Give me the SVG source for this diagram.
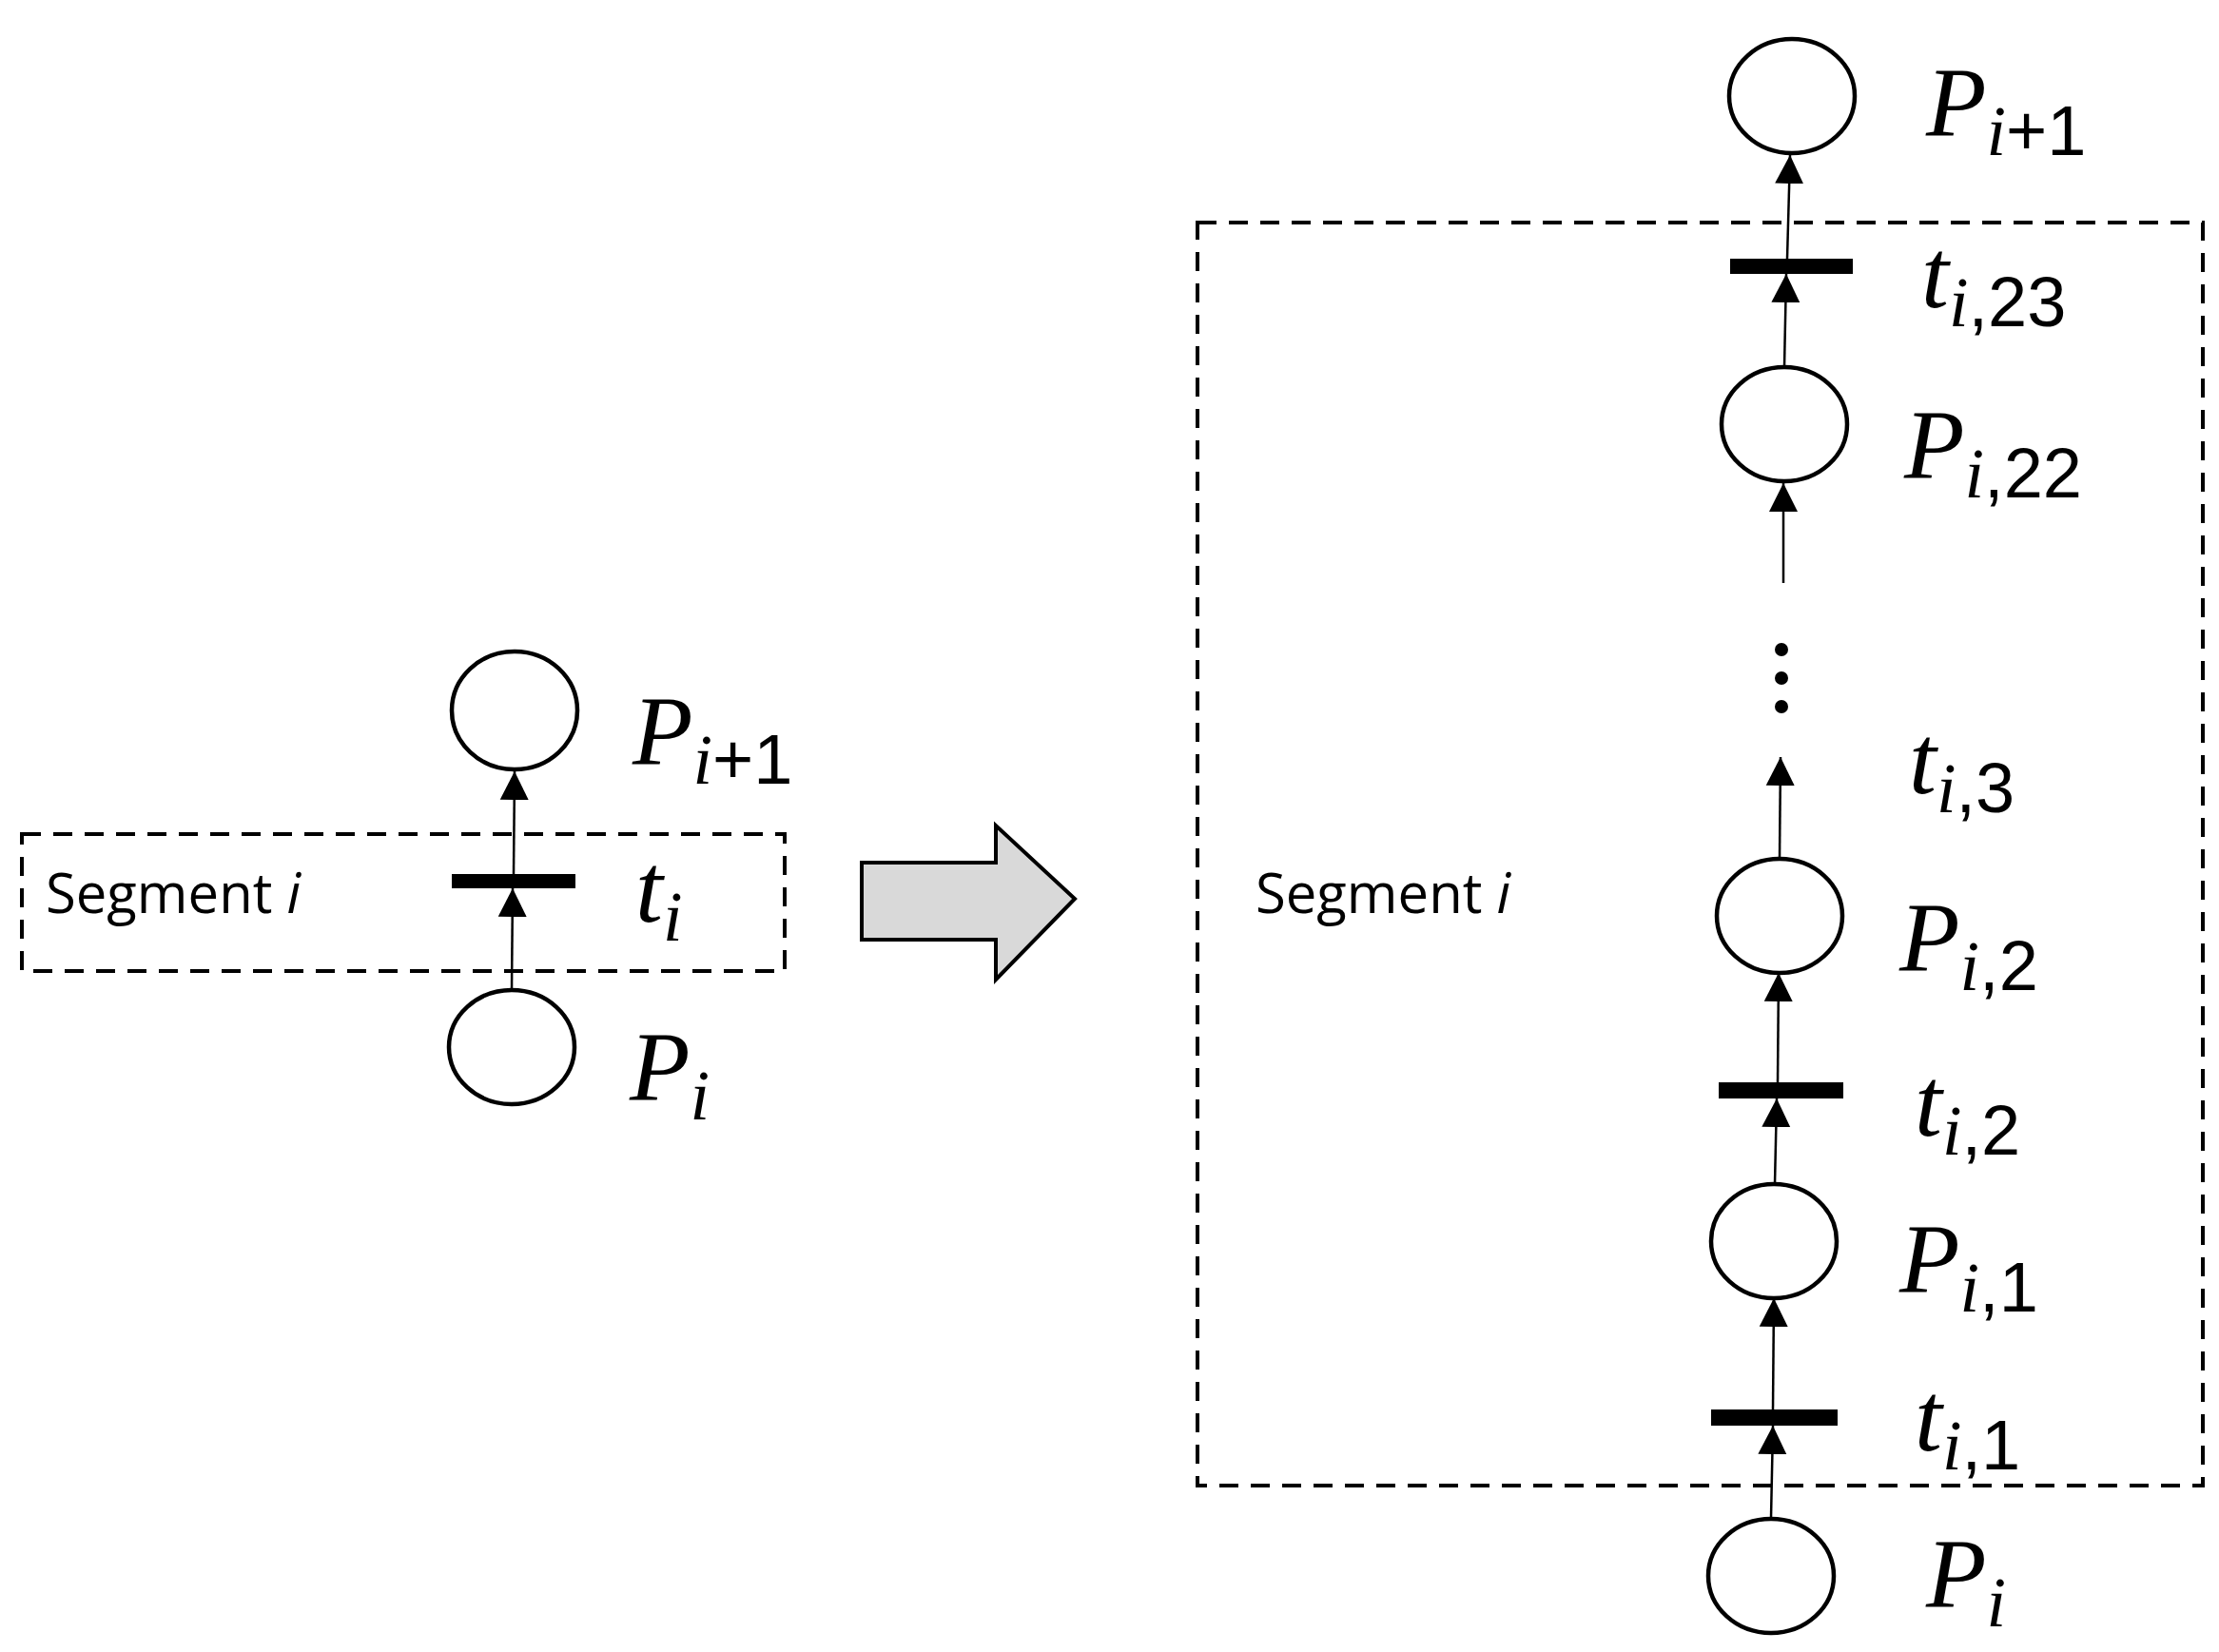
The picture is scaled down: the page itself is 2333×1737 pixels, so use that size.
<svg xmlns="http://www.w3.org/2000/svg" width="2333" height="1737" viewBox="0 0 2333 1737">
<style>
.pl{fill:#fff;stroke:#000;stroke-width:4.5}
.tr{fill:#000}
.dash{fill:none;stroke:#000;stroke-width:4;stroke-dasharray:20 13}
.arc{stroke:#000;stroke-width:2.5;fill:none;marker-end:url(#ah)}
.m{font-family:"Liberation Serif","DejaVu Serif",serif;font-style:italic;font-size:104px}
.s{font-size:74px}
.n{font-style:normal;font-family:"Liberation Sans",sans-serif}
.seg{font-family:"Open Sans","Liberation Sans",sans-serif;font-size:58px}
</style>
<defs>
<marker id="ah" markerUnits="userSpaceOnUse" markerWidth="30" markerHeight="40" refX="30" refY="15" orient="auto" viewBox="0 0 30 30"><path d="M0,0 L30,15 L0,30 Z"/></marker>
</defs>
<g id="connectors">
<line class="arc" x1="538" y1="1041" x2="539" y2="934"/>
<line class="arc" x1="540" y1="919" x2="541" y2="811"/>
<line class="arc" x1="1862" y1="1597" x2="1864" y2="1499"/>
<line class="arc" x1="1864" y1="1482" x2="1865" y2="1365"/>
<line class="arc" x1="1866" y1="1245" x2="1868" y2="1155"/>
<line class="arc" x1="1869" y1="1138" x2="1870" y2="1023"/>
<line class="arc" x1="1871" y1="903" x2="1872" y2="796"/>
<line class="arc" x1="1875" y1="613" x2="1875" y2="508"/>
<line class="arc" x1="1876" y1="386" x2="1878" y2="288"/>
<line class="arc" x1="1879" y1="272" x2="1882" y2="163"/>
</g>
<g id="segment-left"><rect class="dash" x="23" y="877" width="802" height="144"/><text class="seg" x="48" y="960">Segment <tspan font-style="italic">i</tspan></text></g>
<g id="segment-right"><rect class="dash" x="1259" y="234" width="1057" height="1328"/><text class="seg" x="1320" y="960">Segment <tspan font-style="italic">i</tspan></text></g>
<g id="L-Pi1"><ellipse class="pl" cx="541" cy="747" rx="66" ry="62"/><text class="m" x="665" y="804">P<tspan class="s" dy="20">i</tspan><tspan class="s n">+1</tspan></text></g>
<g id="L-ti"><rect class="tr" x="475" y="919" width="130" height="15"/><text class="m" x="668" y="969">t<tspan class="s" dy="20">i</tspan></text></g>
<g id="L-Pi"><ellipse class="pl" cx="538" cy="1101" rx="66" ry="60"/><text class="m" x="662" y="1157">P<tspan class="s" dy="20">i</tspan></text></g>
<g id="block-arrow"><path d="M906,907 H1047 V868 L1130,945 L1047,1030 V988 H906 Z" fill="#d9d9d9" stroke="#000" stroke-width="4"/></g>
<g id="R-Pi1"><ellipse class="pl" cx="1884" cy="101" rx="66" ry="60"/><text class="m" x="2025" y="143">P<tspan class="s" dy="20">i</tspan><tspan class="s n">+1</tspan></text></g>
<g id="R-ti23"><rect class="tr" x="1819" y="272" width="129" height="16"/><text class="m" x="2020" y="323">t<tspan class="s" dy="20">i</tspan><tspan class="s n">,23</tspan></text></g>
<g id="R-Pi22"><ellipse class="pl" cx="1876" cy="446" rx="66" ry="60"/><text class="m" x="2002" y="503">P<tspan class="s" dy="20">i</tspan><tspan class="s n">,22</tspan></text></g>
<g id="dots"><circle cx="1873" cy="683" r="7"/><circle cx="1873" cy="713" r="7"/><circle cx="1873" cy="743" r="7"/></g>
<g id="R-ti3"><text class="m" x="2007" y="834">t<tspan class="s" dy="20">i</tspan><tspan class="s n">,3</tspan></text></g>
<g id="R-Pi2"><ellipse class="pl" cx="1871" cy="963" rx="66" ry="60"/><text class="m" x="1997" y="1021">P<tspan class="s" dy="20">i</tspan><tspan class="s n">,2</tspan></text></g>
<g id="R-ti2"><rect class="tr" x="1807" y="1138" width="131" height="17"/><text class="m" x="2013" y="1194">t<tspan class="s" dy="20">i</tspan><tspan class="s n">,2</tspan></text></g>
<g id="R-Pi1b"><ellipse class="pl" cx="1865" cy="1305" rx="66" ry="60"/><text class="m" x="1997" y="1359">P<tspan class="s" dy="20">i</tspan><tspan class="s n">,1</tspan></text></g>
<g id="R-ti1"><rect class="tr" x="1799" y="1482" width="133" height="17"/><text class="m" x="2013" y="1525">t<tspan class="s" dy="20">i</tspan><tspan class="s n">,1</tspan></text></g>
<g id="R-Pi"><ellipse class="pl" cx="1862" cy="1657" rx="66" ry="60"/><text class="m" x="2025" y="1690">P<tspan class="s" dy="20">i</tspan></text></g>
</svg>
